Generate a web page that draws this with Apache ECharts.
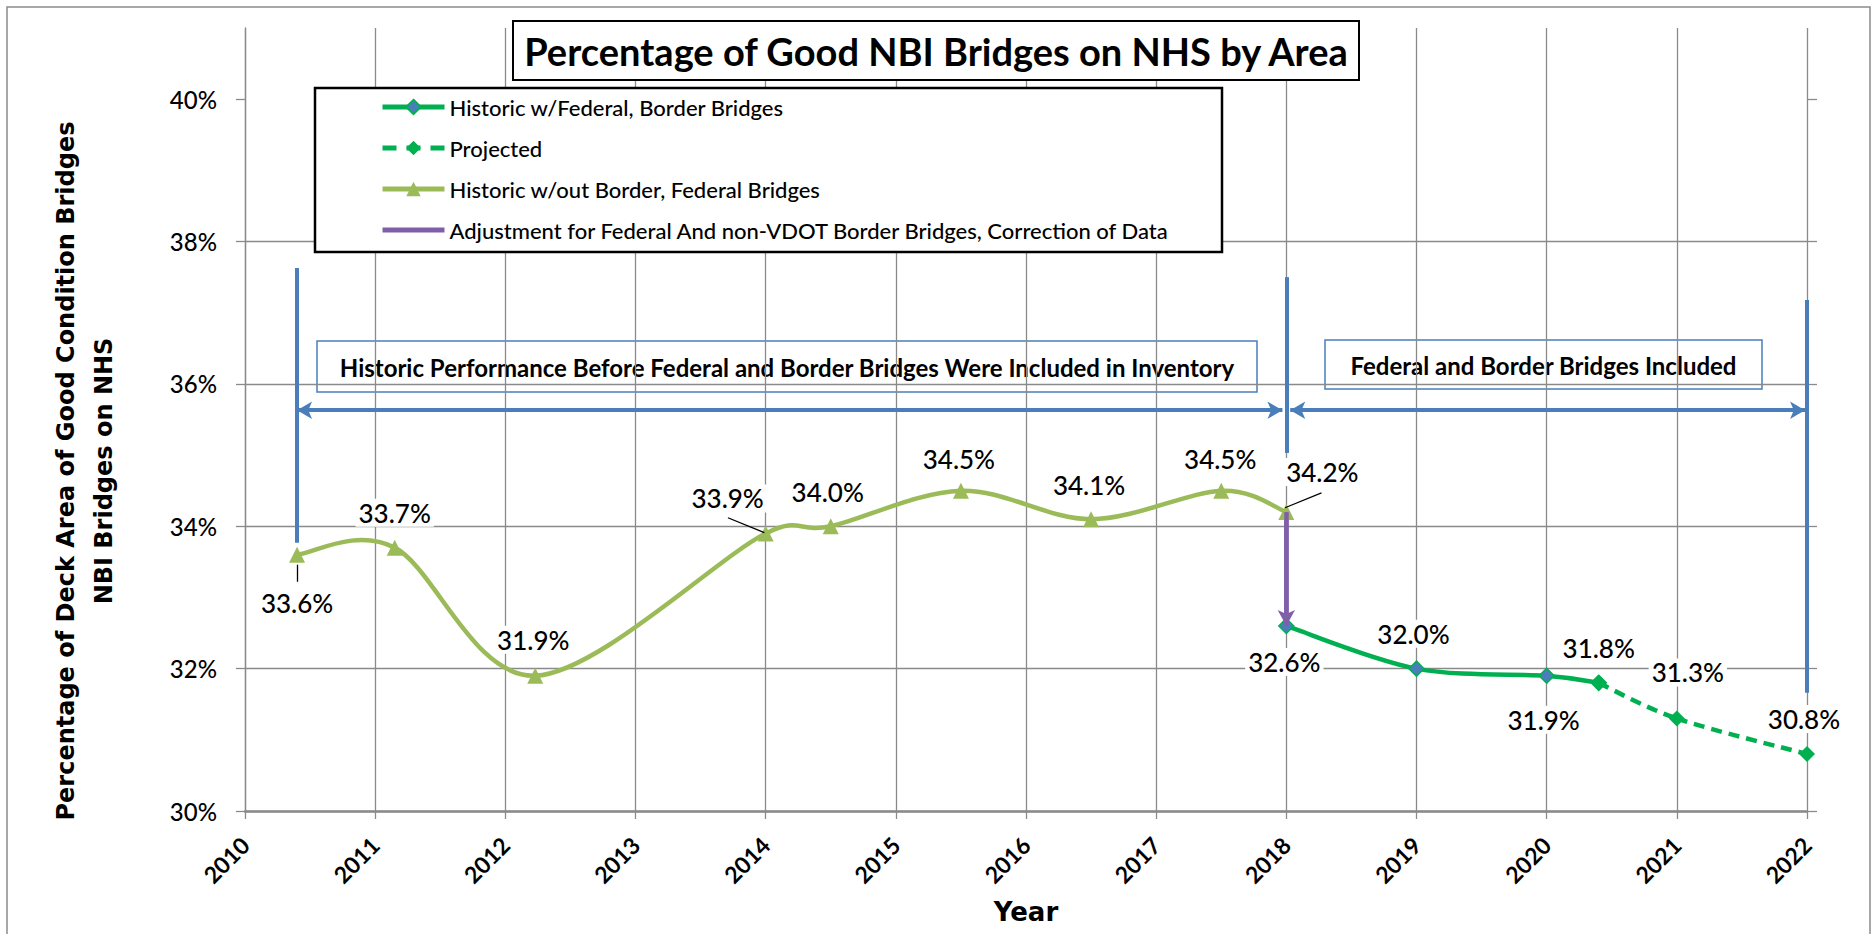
<!DOCTYPE html>
<html>
<head>
<meta charset="utf-8">
<script src="https://cdn.jsdelivr.net/npm/echarts@6/dist/echarts.min.js"></script>
<style>
  html, body { margin: 0; padding: 0; background: #fff; }
  #chart { width: 1872px; height: 934px; }
</style>
</head>
<body>
<div id="chart"></div>
<script>
// ---------- data ----------
const titleText = 'Percentage of Good NBI Bridges on NHS by Area';
const yAxisTitleLines = ['Percentage of Deck Area of Good Condition Bridges', 'NBI Bridges on NHS'];
const xAxisTitle = 'Year';
const seriesNames = [
  'Historic w/Federal, Border Bridges',
  'Projected',
  'Historic w/out Border, Federal Bridges',
  'Adjustment for Federal And non-VDOT Border Bridges, Correction of Data'
];
const yTickValues = [30, 32, 34, 36, 38, 40];

const oldYears  = [2010.4, 2011.15, 2012.23, 2014, 2014.5, 2015.5, 2016.5, 2017.5, 2018];
const oldValues = [33.6, 33.7, 31.9, 33.9, 34.0, 34.5, 34.1, 34.5, 34.2];

const fedYears  = [2018, 2019, 2020, 2020.4];
const fedValues = [32.6, 32.0, 31.9, 31.8];

const projYears  = [2020.4, 2021, 2022];
const projValues = [31.8, 31.3, 30.8];

const adjYears  = [2018, 2018];
const adjValues = [34.2, 32.6];

// annotation geometry (data units)
const dividerYears   = [2010.4, 2018, 2022];
const dividerTops    = [37.63, 37.5, 37.18];
const dividerBottoms = [33.77, 35.03, 31.66];
const spanLevel      = 35.63;
const spanStarts     = [2010.4, 2018.03];
const spanEnds       = [2017.97, 2021.985];
const leaderStarts   = [[2010.4, 33.46], [2013.71, 34.12], [2018.27, 34.47]];
const leaderEnds     = [[2010.4, 33.22], [2013.99, 33.91], [2017.99, 34.26]];

const boxTexts = [
  'Historic Performance Before Federal and Border Bridges Were Included in Inventory',
  'Federal and Border Bridges Included'
];

// label offsets in pixels (layout, kept apart from values)
const oldLabelOffsets  = [[0,48],[0,-35],[-2,-36],[-38,-35],[-3,-34],[-2,-32],[-2,-34],[-1,-32],[36,-40]];
const fedLabelOffsets  = [[-2,36],[-3,-35],[-3,44],[0,-35]];
const projLabelOffsets = [null,[11,-46],[-3,-35]];

// ---------- styles ----------
const GRID = '#8a8a8a';
const GREEN = '#00B050';
const OLIVE = '#9BBB59';
const PURPLE = '#7F60A8';
const BLUE = '#4A7EBB';
const LW = 4.5;

const labelBase = {
  show: true, position: 'inside', fontFamily: 'Lato', fontWeight: 500, fontSize: 26, color: '#000',
  backgroundColor: '#fff', padding: [1, 3],
  formatter: p => p.value[1].toFixed(1) + '%'
};

function buildData(xs, ys, offs) {
  return xs.map((x, i) => {
    const item = { value: [x, ys[i]] };
    item.label = offs[i] ? { show: true, offset: offs[i] } : { show: false };
    return item;
  });
}

// smooth curve (Excel-style Catmull-Rom with arm clamp) drawn through the axis scales
function arm(from, a, b, segLen) {
  let vx = (b[0] - a[0]) / 6, vy = (b[1] - a[1]) / 6;
  const len = Math.hypot(vx, vy), lim = 0.6 * segLen;
  if (len > lim && len > 0) { vx *= lim / len; vy *= lim / len; }
  return [vx, vy];
}
function curveRenderer(xs, ys, color, dash) {
  const n = xs.length;
  return function (params, api) {
    const i = params.dataIndex;
    if (i >= n - 1) return null;
    const P = k => { const j = Math.max(0, Math.min(n - 1, k)); return api.coord([xs[j], ys[j]]); };
    const p0 = P(i - 1), p1 = P(i), p2 = P(i + 1), p3 = P(i + 2);
    const seg = Math.hypot(p2[0] - p1[0], p2[1] - p1[1]);
    const a1 = arm(p1, p0, p2, seg), a2 = arm(p2, p1, p3, seg);
    return {
      type: 'bezierCurve',
      shape: {
        x1: p1[0], y1: p1[1], x2: p2[0], y2: p2[1],
        cpx1: p1[0] + a1[0], cpy1: p1[1] + a1[1],
        cpx2: p2[0] - a2[0], cpy2: p2[1] - a2[1]
      },
      style: { stroke: color, lineWidth: LW, fill: 'none', lineDash: dash || null }
    };
  };
}
function curveSeries(id, xs, ys, color, dash, z) {
  return {
    id: id, name: id, type: 'custom', z: z, silent: true, clip: false,
    encode: { x: 0, y: 1 },
    data: xs.map((x, i) => [x, ys[i]]),
    renderItem: curveRenderer(xs, ys, color, dash)
  };
}

const markData = [];
dividerYears.forEach((yr, i) => {
  markData.push([
    { coord: [yr, dividerTops[i]], symbol: 'none', lineStyle: { color: BLUE, width: 4, type: 'solid' } },
    { coord: [yr, dividerBottoms[i]], symbol: 'none' }
  ]);
});
spanStarts.forEach((s, i) => {
  markData.push([
    { coord: [s, spanLevel], symbol: 'arrow', symbolSize: [13, 15], lineStyle: { color: BLUE, width: 4, type: 'solid' } },
    { coord: [spanEnds[i], spanLevel], symbol: 'arrow', symbolSize: [13, 15] }
  ]);
});
leaderStarts.forEach((s, i) => {
  markData.push([
    { coord: s, symbol: 'none', lineStyle: { color: '#000', width: 1.3, type: 'solid' } },
    { coord: leaderEnds[i], symbol: 'none' }
  ]);
});

const chart = echarts.init(document.getElementById('chart'), null, { renderer: 'svg' });

const titleFont = { fontFamily: 'DejaVu Sans', fontWeight: 'bold', fontSize: 24, fill: '#000', align: 'center', verticalAlign: 'middle' };
const boxFont = { fontFamily: 'Lato', fontWeight: 'bold', fontSize: 24, fill: '#000', align: 'center', verticalAlign: 'middle' };

const option = {
  animation: false,
  backgroundColor: '#fff',
  title: {
    text: titleText, left: 'center', top: 21, padding: [7, 10],
    borderColor: '#000', borderWidth: 2, backgroundColor: '#fff',
    textStyle: { fontFamily: 'Lato', fontWeight: 'bold', fontSize: 38, lineHeight: 45, color: '#000' }
  },
  legend: {
    orient: 'vertical', left: 375, top: 91, itemWidth: 62, itemHeight: 18, itemGap: 19,
    selectedMode: false, z: 10,
    textStyle: { fontFamily: 'Lato', fontWeight: 500, fontSize: 22, color: '#000' },
    data: [
      { name: seriesNames[0], lineStyle: { color: GREEN, width: 5, opacity: 1, type: 'solid' } },
      { name: seriesNames[1], lineStyle: { color: GREEN, width: 5, opacity: 1, type: [14, 10] } },
      { name: seriesNames[2], lineStyle: { color: OLIVE, width: 5, opacity: 1, type: 'solid' } },
      { name: seriesNames[3], lineStyle: { color: PURPLE, width: 5, opacity: 1, type: 'solid' },
        itemStyle: { color: 'rgba(0,0,0,0)', borderWidth: 0, opacity: 0 } }
    ]
  },
  grid: { left: 245, right: 65, top: 28, bottom: 123, containLabel: false },
  xAxis: {
    type: 'value', min: 2010, max: 2022, interval: 1,
    name: xAxisTitle, nameLocation: 'middle', nameGap: 88,
    nameTextStyle: { fontFamily: 'DejaVu Sans', fontWeight: 'bold', fontSize: 26, color: '#000' },
    axisLine: { show: true, onZero: false, lineStyle: { color: GRID, width: 2.5 } },
    axisTick: { show: true, length: 8, lineStyle: { color: GRID, width: 1.3 } },
    axisLabel: { rotate: 45, margin: 30, fontFamily: 'Lato', fontWeight: 'bold', fontSize: 23, color: '#000',
                 formatter: v => String(Math.round(v)) },
    splitLine: { show: true, lineStyle: { color: GRID, width: 1.3 } }
  },
  yAxis: [{
    type: 'value', min: 30, max: 41, interval: 2,
    axisLine: { show: true, lineStyle: { color: GRID, width: 1.3 } },
    axisTick: { show: true, length: 9, customValues: yTickValues, lineStyle: { color: GRID, width: 1.3 } },
    axisLabel: { customValues: yTickValues, margin: 28, fontFamily: 'Lato', fontWeight: 500, fontSize: 24, color: '#000',
                 formatter: v => v + '%' },
    splitLine: { show: true, showMaxLine: false, lineStyle: { color: GRID, width: 1.3 } }
  }, {
    type: 'value', min: 30, max: 41, interval: 2, position: 'right',
    axisLine: { show: false },
    axisTick: { show: true, length: 10, customValues: yTickValues, lineStyle: { color: GRID, width: 1.3 } },
    axisLabel: { show: false },
    splitLine: { show: false }
  }],
  graphic: [
    { type: 'rect', z: -10, silent: true, shape: { x: 7, y: 7, width: 1863, height: 940 },
      style: { fill: 'none', stroke: '#8c8c8c', lineWidth: 1.5 } },
    { type: 'text', z: 10, silent: true, x: 66, y: 471, rotation: Math.PI / 2,
      style: Object.assign({ text: yAxisTitleLines[0] }, titleFont) },
    { type: 'text', z: 10, silent: true, x: 104, y: 471, rotation: Math.PI / 2,
      style: Object.assign({ text: yAxisTitleLines[1] }, titleFont) },
    { type: 'rect', z: 5, silent: true, shape: { x: 315, y: 88, width: 907, height: 164 },
      style: { fill: '#fff', stroke: '#000', lineWidth: 2.5 } },
    { type: 'group', z: 5, silent: true, children: [
      { type: 'rect', shape: { x: 317, y: 341, width: 940, height: 51 },
        style: { fill: '#fff', stroke: BLUE, lineWidth: 1.5 } },
      { type: 'text', x: 787, y: 367, style: Object.assign({ text: boxTexts[0] }, boxFont) },
      { type: 'rect', shape: { x: 1325, y: 340, width: 437, height: 49 },
        style: { fill: '#fff', stroke: BLUE, lineWidth: 1.5 } },
      { type: 'text', x: 1543.5, y: 365, style: Object.assign({ text: boxTexts[1] }, boxFont) }
    ] }
  ],
  series: [
    curveSeries('curve-old', oldYears, oldValues, OLIVE, null, 2),
    curveSeries('curve-fed', fedYears, fedValues, GREEN, null, 2),
    curveSeries('curve-proj', projYears, projValues, GREEN, [11, 7], 2),
    {
      name: seriesNames[2], type: 'line', z: 3,
      data: buildData(oldYears, oldValues, oldLabelOffsets),
      symbol: 'triangle', symbolSize: 16,
      lineStyle: { color: OLIVE, width: LW, opacity: 0 },
      itemStyle: { color: OLIVE },
      label: labelBase
    },
    {
      name: seriesNames[3], type: 'line', z: 3,
      data: adjYears.map((x, i) => [x, adjValues[i]]),
      symbol: 'none',
      lineStyle: { color: PURPLE, width: LW },
      itemStyle: { color: PURPLE },
      markLine: {
        silent: true, animation: false, label: { show: false },
        data: [[
          { coord: [adjYears[0], adjValues[0]], symbol: 'none', lineStyle: { color: PURPLE, width: LW, type: 'solid' } },
          { coord: [adjYears[1], adjValues[1]], symbol: 'arrow', symbolSize: [13, 16] }
        ]]
      }
    },
    {
      name: seriesNames[0], type: 'line', z: 4,
      data: buildData(fedYears, fedValues, fedLabelOffsets),
      symbol: 'diamond', symbolSize: 15,
      lineStyle: { color: GREEN, width: LW, opacity: 0 },
      itemStyle: { color: BLUE, borderColor: GREEN, borderWidth: 1.5 },
      label: labelBase
    },
    {
      name: seriesNames[1], type: 'line', z: 5,
      data: buildData(projYears, projValues, projLabelOffsets),
      symbol: 'diamond', symbolSize: 16,
      lineStyle: { color: GREEN, width: LW, type: [11, 7], opacity: 0 },
      itemStyle: { color: GREEN },
      label: labelBase
    },
    {
      name: 'annotations', type: 'line', z: 2,
      data: [[2010, 30]], symbol: 'none', lineStyle: { opacity: 0 }, silent: true,
      markLine: { silent: true, animation: false, label: { show: false }, data: markData }
    }
  ]
};
chart.setOption(option);
</script>
</body>
</html>
